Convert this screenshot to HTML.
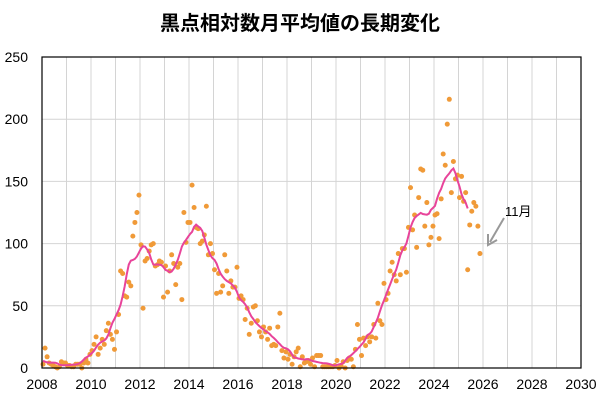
<!DOCTYPE html>
<html><head><meta charset="utf-8"><style>
body{margin:0;background:#fff;}
svg{display:block;font-family:"Liberation Sans","Noto Sans CJK JP",sans-serif;}
</style></head><body>
<svg id="s" width="600" height="400" xmlns="http://www.w3.org/2000/svg">
<rect width="600" height="400" fill="#fff"/>
<text x="300" y="30" text-anchor="middle" font-size="20" font-weight="bold" fill="#000">黒点相対数月平均値の長期変化</text>
<g id="grid"></g>
<g id="dots"></g>
<path id="line" fill="none" stroke="#e8449a" stroke-width="2"/>
<rect x="42" y="57" width="539" height="311" fill="none" stroke="#000" stroke-width="1.2"/>
<g id="labels" font-size="14" fill="#000"></g>
<text x="505" y="216" font-size="13" fill="#000">11月</text>
<line x1="504" y1="218" x2="490" y2="242" stroke="#999" stroke-width="2"/>
<polyline points="488,234 488,245 497,240" fill="none" stroke="#999" stroke-width="2"/>
</svg>
<script>
var d=[3,16,9,4,3,2,1,0,1,5,4,4,
2,2,1,1,3,3,3,0,4,7,4,11,
14,19,25,11,16,23,19,30,36,27,23,15,
29,43,78,76,58,57,69,66,106,117,125,139,
99,48,86,88,94,99,100,82,83,86,85,57,
82,61,78,91,84,67,81,84,55,125,101,117,
117,147,129,113,112,100,102,107,130,91,100,92,
79,60,76,61,66,91,78,60,70,65,65,81,
56,58,55,39,48,27,36,49,50,38,29,25,
33,29,23,32,18,19,18,33,44,14,8,13,
7,11,3,9,13,16,1,9,4,5,6,3,
8,1,10,10,10,1,1,1,1,1,1,2,
6,0,2,5,0,6,8,7,1,15,35,23,
10,24,18,25,21,25,35,24,52,38,35,68,
55,60,78,85,75,70,92,75,96,96,77,113,
145,111,123,97,137,160,159,114,133,99,105,114,
123,124,104,136,172,163,196,216,141,166,152,155,
137,154,134,141,79,115,126,133,130,114,92];
var ns="http://www.w3.org/2000/svg";
function X(t){return 42+(t-2008)*24.5;}
function Y(v){return 368-v*1.244;}
function el(n,a,p){var e=document.createElementNS(ns,n);for(var k in a)e.setAttribute(k,a[k]);document.getElementById(p).appendChild(e);return e;}
for(var y=2009;y<2030;y++)el('line',{x1:X(y),x2:X(y),y1:57,y2:368,stroke:'#d4d4d4','stroke-width':1},'grid');
for(var v=50;v<250;v+=50)el('line',{x1:42,x2:581,y1:Y(v),y2:Y(v),stroke:'#d4d4d4','stroke-width':1},'grid');
for(var i=0;i<d.length;i++)el('circle',{cx:X(2008+(i+0.5)/12),cy:Y(d[i]),r:2.5,fill:'#f09a38'},'dots');
var p='';
for(var i=0;i<d.length-6;i++){var s=0,c=0;for(var j=i-6;j<=i+6;j++){if(j>=0&&j<d.length){var w=(Math.abs(j-i)==6)?0.5:1;s+=d[j]*w;c+=w;}}
var v=s/c;p+=(i?'L':'M')+X(2008+(i+0.5)/12).toFixed(1)+','+Y(v).toFixed(1);}
document.getElementById('line').setAttribute('d',p);
for(var y=2008;y<=2030;y+=2){var t=el('text',{x:X(y),y:389,'text-anchor':'middle'},'labels');t.textContent=y;}
for(var v=0;v<=250;v+=50){var t=el('text',{x:28,y:Y(v)+5,'text-anchor':'end'},'labels');t.textContent=v;}
</script>
</body></html>
